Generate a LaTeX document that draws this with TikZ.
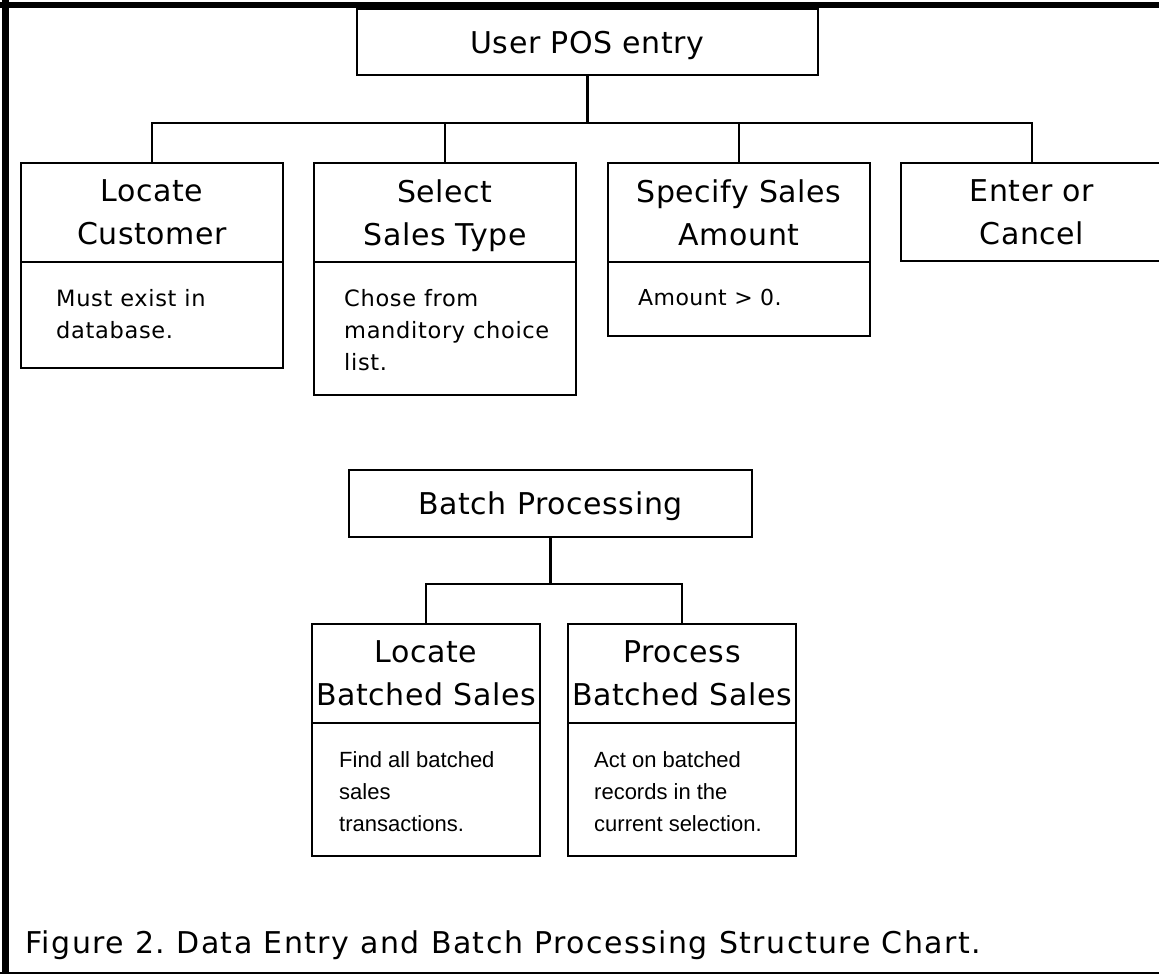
\documentclass[tikz,border=0pt]{standalone}
\usepackage{fontspec}
\setmainfont{DejaVu Sans}[LetterSpace=2]
\newfontfamily\notefont{DejaVu Sans}[LetterSpace=3]
\newfontfamily\capfont{DejaVu Sans}[LetterSpace=5]
\newfontfamily\arialfont{Liberation Sans}
\usetikzlibrary{positioning}
\frenchspacing

\tikzset{
  head/.style={draw,line width=2.8pt,outer sep=0pt,inner sep=0pt,anchor=north west,
    align=center,text depth=0pt,font=\fontsize{30}{43}\selectfont},
  note/.style={draw,line width=2.8pt,outer sep=0pt,inner sep=0pt},
  notetext/.style={anchor=north west,inner sep=0pt,align=left,font=\notefont\fontsize{22.5}{32}\selectfont},
  lowtext/.style={notetext,font=\arialfont\fontsize{22}{32}\selectfont},
  link/.style={line width=2.8pt},
  frameline/.style={line width=#1}
}

\begin{document}
\begin{tikzpicture}[x=1pt,y=-1pt]
  \clip (0,0) rectangle (1159,974);
  \draw[frameline=7pt] (5.5,0) -- (5.5,974);
  \draw[frameline=6pt] (0,5) -- (1159,5);
  \draw[frameline=2.6pt] (0,973) -- (1159,973);

  \node[head,minimum width=461pt,minimum height=66pt] (userpos) at (357,9) {User POS entry};

  \node[head,minimum width=262pt,minimum height=99pt] (cust) at (21,163) {Locate\\Customer};
  \node[note,minimum width=262pt,minimum height=106pt,below=0pt of cust] (custnote) {};
  \node[notetext] (custtxt) at ([shift={(35,27)}]custnote.north west) {Must exist in\\database.};

  \node[head,minimum width=262pt,minimum height=99pt] (stype) at (314,163) {Select\\Sales Type};
  \node[note,minimum width=262pt,minimum height=133pt,below=0pt of stype] (stypenote) {};
  \node[notetext] (stypetxt) at ([shift={(30,27)}]stypenote.north west) {Chose from\\manditory choice\\list.};

  \node[head,minimum width=262pt,minimum height=99pt] (amount) at (608,163) {Specify Sales\\Amount};
  \node[note,minimum width=262pt,minimum height=74pt,below=0pt of amount] (amountnote) {};
  \node[notetext,font=\fontsize{22}{32}\selectfont] (amounttxt) at ([shift={(30,27)}]amountnote.north west) {Amount > 0.};

  \node[head,minimum width=262pt,minimum height=98pt] (enter) at (901,163) {Enter or\\Cancel};

  \coordinate (posbus) at (0,123);
  \draw[link] (userpos.south) -- (userpos.south |- posbus);
  \draw[link] (cust.north) |- (enter.north |- posbus) -- (enter.north);
  \draw[link] (stype.north) -- (stype.north |- posbus);
  \draw[link] (amount.north) -- (amount.north |- posbus);

  \node[head,minimum width=403pt,minimum height=67pt] (batch) at (349,470) {Batch Processing};

  \node[head,minimum width=228pt,minimum height=99pt] (findb) at (312,624) {Locate\\Batched Sales};
  \node[note,minimum width=228pt,minimum height=133pt,below=0pt of findb] (findnote) {};
  \node[lowtext] (findtxt) at ([shift={(27,28)}]findnote.north west) {Find all batched\\sales\\transactions.};

  \node[head,minimum width=228pt,minimum height=99pt] (procb) at (568,624) {Process\\Batched Sales};
  \node[note,minimum width=228pt,minimum height=133pt,below=0pt of procb] (procnote) {};
  \node[lowtext] (proctxt) at ([shift={(26,28)}]procnote.north west) {Act on batched\\records in the\\current selection.};

  \coordinate (batchbus) at (0,584);
  \draw[link] (batch.south) -- (batch.south |- batchbus);
  \draw[link] (findb.north) |- (procb.north |- batchbus) -- (procb.north);

  \node[anchor=base west,inner sep=0pt,font=\capfont\fontsize{30}{34}\selectfont] (caption) at (25,953)
    {Figure 2. Data Entry and Batch Processing Structure Chart.};
\end{tikzpicture}
\end{document}
